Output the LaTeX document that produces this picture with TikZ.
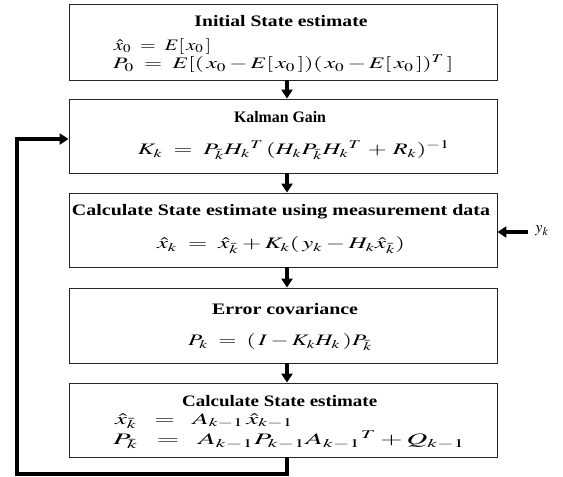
\documentclass[tikz,border=0pt]{standalone}
\usepackage{graphicx}
\usepackage{mathptmx}
\usepackage{fontspec}
\setmainfont{Liberation Serif}
\usetikzlibrary{arrows.meta}
% stretch a text to a given width, keep its height
\newcommand{\fitw}[2]{\resizebox{#1}{\height}{#2}}
\begin{document}
\begin{tikzpicture}[x=1pt, y=-1pt,
    stepbox/.style={draw=black!85, line width=0.8pt, minimum width=428pt, minimum height=74pt, inner sep=0pt},
    title/.style={font=\fontsize{16}{18}\selectfont\bfseries, inner sep=0pt},
    eqn/.style={font=\fontsize{16}{18}\selectfont, inner sep=0pt},
    flow/.style={line width=3.2pt, -{Triangle[width=11pt,length=9pt]}} ]
    \useasboundingbox (0,0) rectangle (563,477);
    \node at (283,42) [stepbox,minimum height=76pt] (B1) {};
    \node at (283,136) [stepbox] (B2) {};
    \node at (283,230) [stepbox] (B3) {};
    \node at (283,325.5) [stepbox,minimum height=75pt] (B4) {};
    \node at (283,420) [stepbox] (B5) {};
    \node at (281,21) [title] (t1) {\fitw{173pt}{Initial State estimate}};
    \node at (114,46) [eqn,anchor=west] (e1a) {\fitw{97pt}{$\hat{x}_0 \;=\; E[\,x_0\,]$}};
    \node at (113,64) [eqn,anchor=west] (e1b) {\fitw{340pt}{$P_0 \;=\; E[(\,x_0 - E[\,x_0\,])(\,x_0 - E[\,x_0\,])^T\,]$}};
    \node at (280,117) [title] (t2) {\fitw{92pt}{Kalman Gain}};
    \node at (294,150) [eqn] (e2) {\fitw{312pt}{$K_k \;=\; P_{\bar{k}}H_k{}^T\,(H_kP_{\bar{k}}H_k{}^T \,+\, R_k)^{-1}$}};
    \node at (281,212) [title] (t3) {\fitw{418pt}{Calculate State estimate using measurement data}};
    \node at (281,245) [eqn] (e3) {\fitw{248pt}{$\hat{x}_k \;=\; \hat{x}_{\bar{k}} + K_k(\,y_k - H_k\hat{x}_{\bar{k}})$}};
    \node at (285,309) [title] (t4) {\fitw{146pt}{Error covariance}};
    \node at (280,342) [eqn] (e4) {\fitw{184pt}{$P_k \;=\; (\,I - K_kH_k\,)P_{\bar{k}}$}};
    \node at (182,401) [title,anchor=west] (t5) {\fitw{195pt}{Calculate State estimate}};
    \node at (115,421) [eqn,anchor=west] (e5a) {\fitw{178pt}{$\hat{x}_{\bar{k}} \;\;=\;\; A_{k-1}\,\hat{x}_{k-1}$}};
    \node at (113,440) [eqn,anchor=west] (e5b) {\fitw{352pt}{$P_{\bar{k}} \;\;=\;\; A_{k-1}P_{k-1}A_{k-1}{}^T + Q_{k-1}$}};
    \draw [flow] ([xshift=4pt]B1.south) to ([xshift=4pt]B2.north);
    \draw [flow] ([xshift=4pt]B2.south) to ([xshift=4pt]B3.north);
    \draw [flow] ([xshift=4pt]B3.south) to ([xshift=4pt]B4.north);
    \draw [flow] ([xshift=4pt]B4.south) to ([xshift=4pt]B5.north);
    % feedback loop
    \coordinate (c1) at (287,474);
    \coordinate (c2) at (17,474);
    \draw [flow] ([xshift=4pt]B5.south) -- (c1) -- (c2) |- ([yshift=-3pt]B2.west);
    \node at (542,231) [eqn] (yk) {$y_k$};
    \coordinate (ykin) at (528,232);
    \draw [flow] (ykin) -- (B3.east |- ykin);
\end{tikzpicture}
\end{document}
